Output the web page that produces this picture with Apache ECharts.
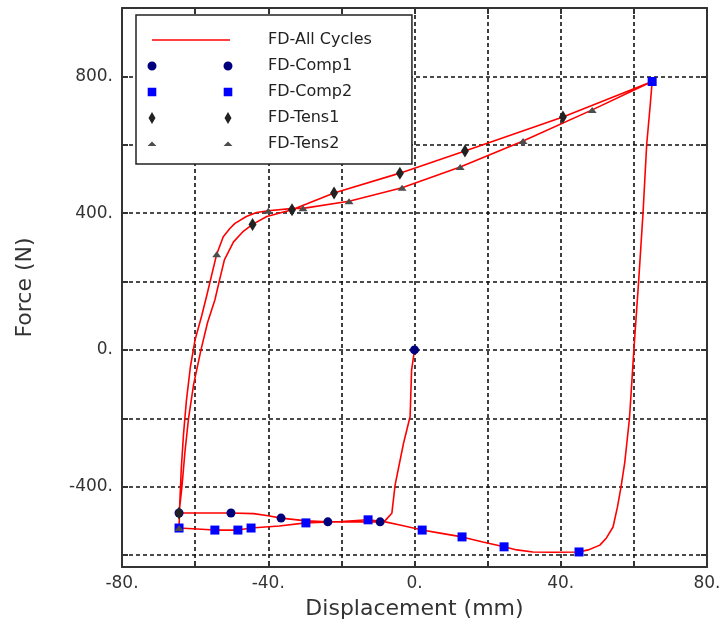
<!DOCTYPE html>
<html>
<head>
<meta charset="utf-8">
<script src="https://cdn.jsdelivr.net/npm/echarts@6/dist/echarts.min.js"></script>
<style>
html, body { margin: 0; padding: 0; background: #fff; }
#fdcurve { width: 723px; height: 632px; }
</style>
</head>
<body>
<div id="fdcurve"></div>
<script>
/*#################    数据  #####################*/
// red line, one piece per half cycle: [displacement mm, force N]
var comp1Path = [[0, 0], [-0.1, -5], [-0.8, -60], [-1.2, -195], [-3.0, -273], [-5.3, -395], [-6.2, -478],
    [-8.1, -500], [-9.4, -503], [-23.7, -503], [-29.5, -500], [-36.5, -492], [-40, -485], [-44, -479],
    [-50.2, -477], [-64.4, -477]];
var tens1Path = [[-64.4, -477], [-63.6, -400], [-62.8, -300], [-61.8, -200], [-60.4, -100], [-58.4, 0],
    [-56.6, 80], [-54.6, 146], [-53.2, 210], [-52, 263], [-49.5, 316], [-47, 345], [-44.3, 367],
    [-40.4, 390], [-33.5, 410], [-22, 459], [-4, 517], [13.8, 582], [40.6, 681], [65, 785]];
var comp2Path = [[65, 785], [64.5, 720], [63.5, 600], [62.5, 400], [61.3, 200], [60, 0], [58.8, -200],
    [57.5, -330], [56.5, -400], [55.5, -460], [54.3, -518], [52.5, -550], [50.7, -571], [47.5, -585],
    [45, -591], [38, -592], [32.4, -591], [28, -585], [24.5, -576], [18.7, -562], [13, -547], [7, -536],
    [2.1, -527], [-4, -512], [-8, -503], [-12.7, -497], [-20, -502], [-29.7, -506], [-37, -515],
    [-44.7, -521], [-48.3, -527], [-54.6, -527], [-64.4, -521]];
var tens2Path = [[-64.4, -521], [-64.2, -450], [-63.8, -350], [-63.2, -250], [-62.4, -150], [-61.3, -50],
    [-60, 30], [-58.2, 100], [-56.8, 160], [-54.1, 280], [-52.3, 331], [-50.5, 355], [-49.1, 370],
    [-46, 390], [-43.2, 402], [-40, 407], [-33.1, 414], [-30.5, 414], [-17.9, 435], [-3.4, 474],
    [12.5, 535], [29.7, 611], [48.6, 702], [65, 785]];

// markers
var comp1Pts = [[0, 0], [-9.4, -503], [-23.7, -503], [-36.5, -492], [-50.2, -477], [-64.4, -477]];
var comp2Pts = [[65, 785], [45, -591], [24.5, -576], [13, -547], [2.1, -527], [-12.7, -497], [-29.7, -506],
    [-44.7, -521], [-48.3, -527], [-54.6, -527], [-64.4, -521]];
var tens1Pts = [[-64.4, -477], [-44.3, 367], [-33.5, 410], [-22, 459], [-4, 517], [13.8, 582], [40.6, 681]];
var tens2Pts = [[-64.4, -521], [-54.1, 280], [-40, 407], [-30.5, 414], [-17.9, 435], [-3.4, 474],
    [12.5, 535], [29.7, 611], [48.6, 702]];

// ticks
var xLabels = [-80, -40, 0, 40, 80];
var yLabels = [-400, 0, 400, 800];
var yTicks = [-600, -400, -200, 0, 200, 400, 600, 800];

var allCycles = [].concat(comp1Path, tens1Path, comp2Path, tens2Path);

/*#################    图例图标 (两个符号)  #####################*/
var box = 'M0,0 M117,14 ';
var iconLine = 'path://' + box + 'M6,6.2H84V7.8H6Z';
var iconCircle = 'path://' + box + 'M1.5,7a4.5,4.5 0 1,0 9,0a4.5,4.5 0 1,0 -9,0Z M77.5,7a4.5,4.5 0 1,0 9,0a4.5,4.5 0 1,0 -9,0Z';
var iconSquare = 'path://' + box + 'M1.7,2.7h8.6v8.6h-8.6Z M77.7,2.7h8.6v8.6h-8.6Z';
var iconDiamond = 'path://' + box + 'M6,1L9.5,7L6,13L2.5,7Z M82,1L85.5,7L82,13L78.5,7Z';
var iconTri = 'path://' + box + 'M6,4.5L10.5,9L1.5,9Z M82,4.5L86.5,9L77.5,9Z';

var font = 'DejaVu Sans';
var gridLine = { color: '#111', width: 1.6, type: [4, 3] };
var axisLn = { color: '#333', width: 2 };

var dom = document.getElementById("fdcurve");
var myChart = echarts.init(dom);
var option = {
    animation: false,
    backgroundColor: '#fff',
    grid: {
        left: 122, right: 16, top: 8, bottom: 65,
        containLabel: false,
        outerBoundsMode: 'none'
    },
    legend: {
        orient: 'vertical',
        left: 136,
        top: 15,
        padding: [17, 40, 12, 10],
        itemWidth: 117,
        itemHeight: 14,
        itemGap: 10,
        symbolKeepAspect: false,
        selectedMode: false,
        backgroundColor: '#fff',
        borderColor: '#222',
        borderWidth: 1.5,
        textStyle: { fontFamily: font, fontSize: 16, color: '#222' },
        data: [
            { name: 'FD-All Cycles', icon: iconLine, itemStyle: { color: '#ff0000', borderWidth: 0 } },
            { name: 'FD-Comp1', icon: iconCircle, itemStyle: { borderWidth: 0, opacity: 1 } },
            { name: 'FD-Comp2', icon: iconSquare, itemStyle: { borderWidth: 0, opacity: 1 } },
            { name: 'FD-Tens1', icon: iconDiamond, itemStyle: { borderWidth: 0, opacity: 1 } },
            { name: 'FD-Tens2', icon: iconTri, itemStyle: { borderWidth: 0, opacity: 1 } }
        ]
    },
    xAxis: [
        {
            type: 'value',
            min: -80, max: 80, interval: 20,
            name: 'Displacement (mm)',
            nameLocation: 'middle',
            nameGap: 31,
            nameMoveOverlap: false,
            nameTextStyle: { fontFamily: font, fontSize: 22, color: '#333' },
            axisLine: { show: true, onZero: false, lineStyle: axisLn },
            axisTick: { show: true, inside: true, length: 6, lineStyle: axisLn },
            axisLabel: {
                customValues: xLabels,
                formatter: function (v) { return v + '.'; },
                fontFamily: font, fontSize: 17, color: '#333', margin: 8
            },
            splitLine: { show: true, lineStyle: gridLine }
        },
        {
            type: 'value',
            position: 'top',
            min: -80, max: 80, interval: 20,
            axisLine: { show: true, onZero: false, lineStyle: axisLn },
            axisTick: { show: true, inside: true, length: 6, lineStyle: axisLn },
            axisLabel: { show: false },
            splitLine: { show: false }
        }
    ],
    yAxis: [
        {
            type: 'value',
            min: -635, max: 1000,
            name: 'Force (N)',
            nameLocation: 'middle',
            nameGap: 86,
            nameMoveOverlap: false,
            nameTextStyle: { fontFamily: font, fontSize: 22, color: '#333' },
            axisLine: { show: true, onZero: false, lineStyle: axisLn },
            axisTick: { show: true, inside: true, length: 6, customValues: yTicks, lineStyle: axisLn },
            axisLabel: {
                customValues: yLabels,
                formatter: function (v) { return v + '.'; },
                fontFamily: font, fontSize: 17, color: '#333', margin: 9
            },
            splitLine: { show: true, lineStyle: gridLine }
        },
        {
            type: 'value',
            position: 'right',
            min: -635, max: 1000,
            axisLine: { show: true, onZero: false, lineStyle: axisLn },
            axisTick: { show: true, inside: true, length: 6, customValues: yTicks, lineStyle: axisLn },
            axisLabel: { show: false },
            splitLine: { show: false }
        }
    ],
    series: [
        {
            name: 'FD-All Cycles',
            type: 'line',
            data: allCycles,
            symbol: 'none',
            smooth: false,
            color: '#ff0000',
            lineStyle: { color: '#ff0000', width: 1.6 },
            z: 2
        },
        {
            name: 'FD-Comp1',
            type: 'scatter',
            data: comp1Pts,
            symbol: 'circle',
            symbolSize: 9,
            color: '#00007f',
            itemStyle: { opacity: 1 },
            z: 3
        },
        {
            name: 'FD-Comp2',
            type: 'scatter',
            data: comp2Pts,
            symbol: 'rect',
            symbolSize: 9,
            color: '#0000ff',
            itemStyle: { opacity: 1 },
            z: 3
        },
        {
            name: 'FD-Tens1',
            type: 'scatter',
            data: tens1Pts,
            symbol: 'diamond',
            symbolSize: [8, 13],
            color: '#222222',
            itemStyle: { opacity: 1 },
            z: 4
        },
        {
            name: 'FD-Tens2',
            type: 'scatter',
            data: tens2Pts,
            symbol: 'triangle',
            symbolSize: [9, 6],
            color: '#4d4d4d',
            itemStyle: { opacity: 1 },
            z: 4
        }
    ]
};
myChart.setOption(option);
</script>
</body>
</html>
